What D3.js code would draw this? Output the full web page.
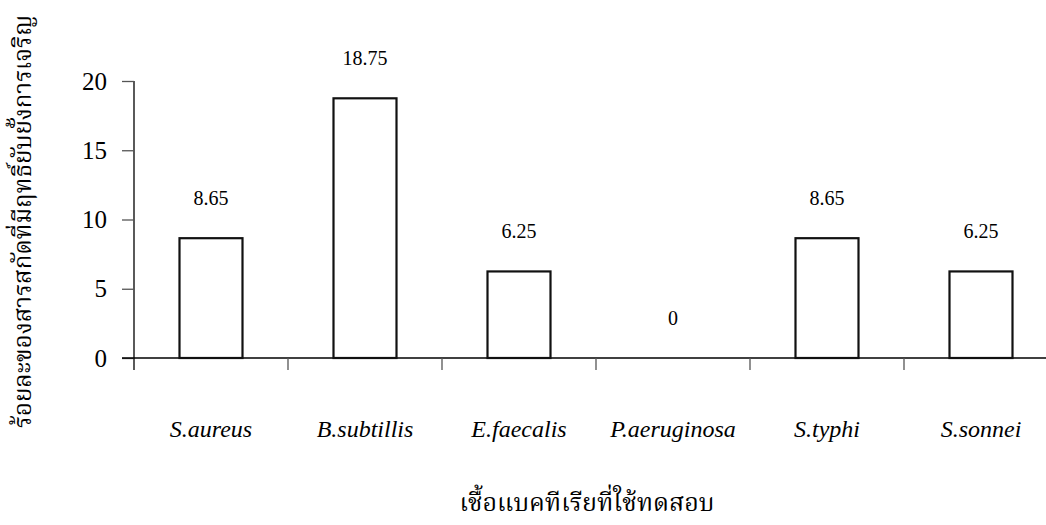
<!DOCTYPE html>
<html>
<head>
<meta charset="utf-8">
<script src="https://cdn.jsdelivr.net/npm/d3@7"></script>
<style>
  html, body { margin: 0; padding: 0; background: #fff; }
  svg { display: block; }
</style>
</head>
<body>
<svg id="chart" width="1046" height="525"></svg>
<script>
// Percentage of extracts showing inhibition, per test bacterium
const categories = ["S.aureus", "B.subtillis", "E.faecalis", "P.aeruginosa", "S.typhi", "S.sonnei"];
const values = [8.65, 18.75, 6.25, 0, 8.65, 6.25];
const valueLabels = ["8.65", "18.75", "6.25", "0", "8.65", "6.25"];
const yTicks = [0, 5, 10, 15, 20];
const xTitle = "เชื้อแบคทีเรียที่ใช้ทดสอบ";
const yTitle = "ร้อยละของสารสกัดที่มีฤทธิ์ยับยั้งการเจริญ";

const SERIF = "'Liberation Serif', 'Times New Roman', serif";
const THAI = "'Norasi', 'Noto Serif Thai', 'Noto Sans Thai', 'Liberation Serif', serif";

const svg = d3.select("#chart");
const plotLeft = 134, plotRight = 1058, plotTop = 81, plotBottom = 358;

const x = d3.scaleBand().domain(categories).range([plotLeft, plotRight]).paddingInner(0).paddingOuter(0);
const y = d3.scaleLinear().domain([0, 20]).range([plotBottom, plotTop]);
const barW = 63;

// y axis
const yAxis = svg.append("g")
  .attr("transform", `translate(${plotLeft},0)`)
  .call(d3.axisLeft(y).tickValues(yTicks).tickSize(12).tickPadding(15).tickFormat(d3.format("d")));
yAxis.select(".domain").attr("stroke", "#000").attr("stroke-width", 1.3).attr("d", `M0,${plotTop}V${plotBottom + 12}`);
yAxis.selectAll(".tick line").attr("stroke", "#555").attr("stroke-width", 1.3);
yAxis.selectAll(".tick text").attr("font-size", 25).attr("font-family", SERIF).attr("fill", "#000");

// x axis with category boundary ticks
const xAxis = svg.append("g").attr("transform", `translate(0,${plotBottom})`);
xAxis.append("line").attr("x1", plotLeft - 12).attr("x2", 1046).attr("y1", 0).attr("y2", 0)
  .attr("stroke", "#000").attr("stroke-width", 1.3);
xAxis.selectAll("line.bound").data(categories.slice(1)).join("line")
  .attr("class", "bound")
  .attr("x1", d => x(d)).attr("x2", d => x(d))
  .attr("y1", 0).attr("y2", 12)
  .attr("stroke", "#555").attr("stroke-width", 1.3);
xAxis.selectAll("text.cat").data(categories).join("text")
  .attr("class", "cat")
  .attr("x", d => x(d) + x.bandwidth() / 2)
  .attr("y", 79)
  .attr("text-anchor", "middle")
  .attr("font-family", SERIF)
  .attr("font-size", 24)
  .attr("font-style", "italic")
  .attr("fill", "#000")
  .text(d => d);

// bars
svg.append("g").selectAll("rect").data(values).join("rect")
  .attr("x", (d, i) => x(categories[i]) + x.bandwidth() / 2 - barW / 2)
  .attr("y", d => y(d))
  .attr("width", barW)
  .attr("height", d => plotBottom - y(d))
  .attr("fill", "#fff")
  .attr("stroke", "#111")
  .attr("stroke-width", 2.2)
  .attr("display", d => d > 0 ? null : "none");

// value labels
svg.append("g").selectAll("text").data(values).join("text")
  .attr("x", (d, i) => x(categories[i]) + x.bandwidth() / 2)
  .attr("y", d => y(d) - 33)
  .attr("text-anchor", "middle")
  .attr("font-family", SERIF)
  .attr("font-size", 20)
  .attr("fill", "#000")
  .text((d, i) => valueLabels[i]);

// axis titles
svg.append("text")
  .attr("x", 587).attr("y", 511)
  .attr("text-anchor", "middle")
  .attr("font-family", THAI)
  .attr("font-size", 25)
  .attr("fill", "#000")
  .text(xTitle);

svg.append("text")
  .attr("transform", "translate(31,428) rotate(-90)")
  .attr("text-anchor", "start")
  .attr("font-family", THAI)
  .attr("font-size", 24)
  .attr("fill", "#000")
  .text(yTitle);
</script>
</body>
</html>
